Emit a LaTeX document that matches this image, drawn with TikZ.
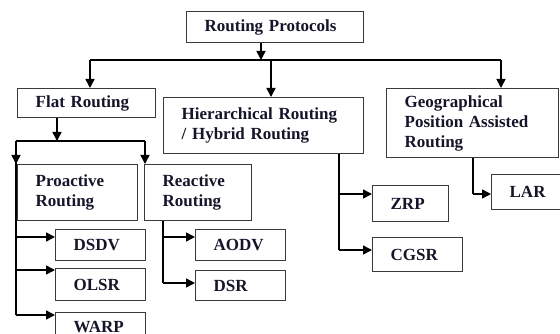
\documentclass[tikz,border=0pt]{standalone}
\usepackage{fontspec}
\setmainfont{Liberation Serif}
\usetikzlibrary{arrows.meta, positioning}
\definecolor{cframe}{HTML}{3A3A3A}
\definecolor{ctext}{HTML}{15152A}
\tikzset{
  every picture/.style={line width=1.5pt},
  box/.style 2 args={draw=cframe, line width=1.3pt, anchor=north west, align=left,
    inner xsep=18pt, inner ysep=0pt, text width=#1, minimum height=#2,
    text=ctext, font=\fontsize{17}{20}\selectfont\bfseries},
  arrow/.style={-{Triangle[length=9pt, width=9pt]}, line width=1.5pt},
}

\begin{document}
\begin{tikzpicture}[x=1pt, y=-1pt]
  \clip (0,0) rectangle (560,334);
  \node[box={141pt}{31pt}] (root) at (186,11) {Routing Protocols};
  \node[box={102pt}{29pt}] (flat) at (17,88) {Flat Routing};
  \node[box={164pt}{56pt}] (hier) at (163,97) {Hierarchical Routing\\/ Hybrid Routing};
  \node[box={136pt}{69pt}] (geo) at (386,88) {Geographical\\Position Assisted\\Routing};
  \node[box={84pt}{56pt}] (pro) at (17,164) {Proactive\\Routing};
  \node[box={71pt}{56pt}] (rea) at (144,164) {Reactive\\Routing};
  \node[box={54pt}{31pt}] (dsdv) at (55,229) {DSDV};
  \node[box={54pt}{32pt}] (olsr) at (55,268) {OLSR};
  \node[box={54pt}{28pt}] (warp) at (55,312) {WARP};
  \node[box={54pt}{31pt}] (aodv) at (195,229) {AODV};
  \node[box={54pt}{30pt}] (dsr) at (195,270) {DSR};
  \node[box={40pt}{36pt}] (zrp) at (372,185) {ZRP};
  \node[box={54pt}{34pt}] (cgsr) at (372,237) {CGSR};
  \node[box={44pt}{35pt}] (lar) at (491,174) {LAR};

  \coordinate (b0) at (261,60);
  \coordinate (bL) at (90,60);
  \coordinate (bM) at (271,60);
  \coordinate (bR) at (501,60);
  \draw[arrow] (root.south -| b0) -- (b0);
  \draw (bL) -- (bR);
  \draw[arrow] (bL) -- (bL |- flat.north);
  \draw[arrow] (bM) -- (bM |- hier.north);
  \draw[arrow] (bR) -- (bR |- geo.north);

  \coordinate (f0) at (57,141);
  \coordinate (fL) at (16,141);
  \coordinate (fR) at (145,141);
  \draw[arrow] (flat.south -| f0) -- (f0);
  \draw (fL) -- (fR);
  \draw[arrow] (fL) -- (fL |- pro.north);
  \draw[arrow] (fR) -- (fR |- rea.north);

  \foreach \n/\y in {dsdv/237, olsr/270, warp/315} {
    \coordinate (p-\n) at (16,\y);
    \draw[arrow] (p-\n) -- (p-\n -| \n.west);
  }
  \draw (fL) -- (p-warp);
  \foreach \n/\y in {aodv/237, dsr/283} {
    \coordinate (r-\n) at (163,\y);
    \draw[arrow] (r-\n) -- (r-\n -| \n.west);
  }
  \draw (rea.south -| r-dsr) -- (r-dsr);
  \foreach \n/\y in {zrp/194, cgsr/250} {
    \coordinate (h-\n) at (339,\y);
    \draw[arrow] (h-\n) -- (h-\n -| \n.west);
  }
  \draw (hier.south -| h-cgsr) -- (h-cgsr);
  \coordinate (g-lar) at (473,194);
  \draw (geo.south -| g-lar) -- (g-lar);
  \draw[arrow] (g-lar) -- (g-lar -| lar.west);
\end{tikzpicture}
\end{document}
